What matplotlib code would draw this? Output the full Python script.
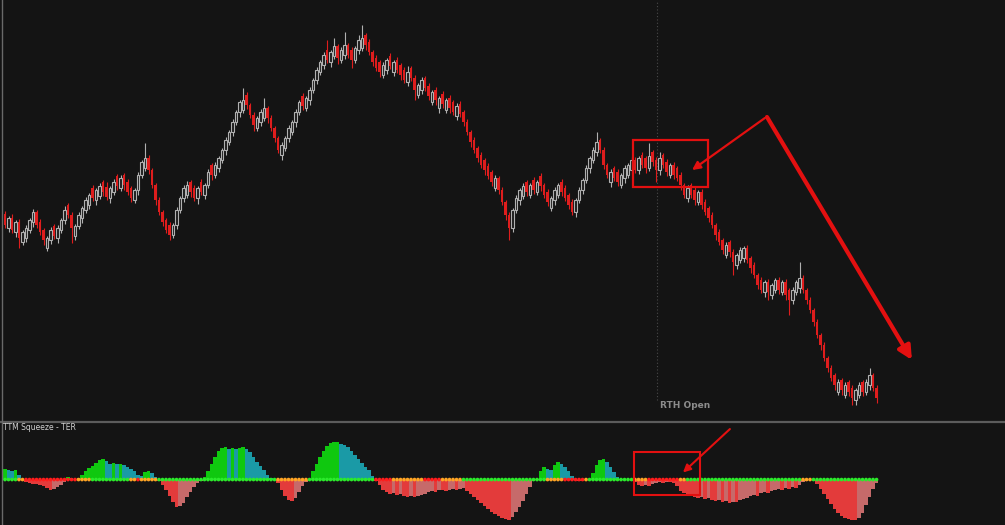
import numpy as np
import matplotlib
matplotlib.use("Agg")
import matplotlib.pyplot as plt
from matplotlib.patches import Rectangle
from matplotlib.lines import Line2D

# ---------------- data (price units, arbitrary scale) ----------------
closes = [205,212,200,208,192,198,202,210,218,205,
          198,190,192,200,194,202,210,220,215,202,
          204,215,222,230,235,232,240,244,238,233,
          242,248,244,252,245,238,232,240,255,268,
          272,260,245,230,218,208,200,195,205,220,
          232,242,245,238,232,242,238,245,258,255,
          265,272,280,290,298,308,318,328,330,325,
          315,305,312,318,322,312,302,292,280,285,
          292,302,308,318,328,324,332,340,350,360,
          368,375,370,378,384,372,380,385,375,370,
          382,390,392,385,378,368,362,358,365,370,
          364,368,360,355,350,358,352,340,345,350,
          342,334,338,330,332,326,330,322,318,324,
          316,308,298,288,280,272,265,260,254,248,
          252,240,228,215,202,220,232,240,244,238,
          245,240,248,244,235,228,232,240,245,238,
          232,225,218,230,240,250,262,272,280,288,
          280,265,255,258,252,248,255,262,265,270,
          260,272,265,262,274,268,260,272,265,258,
          265,255,252,245,235,242,235,230,238,225,
          218,212,205,195,188,180,185,178,168,175,
          180,182,170,162,155,145,140,148,138,145,
          150,140,148,135,130,140,148,152,140,130,
          120,108,95,85,72,62,52,45,48,40,
          45,38,32,40,45,38,48,55,42,32]

opens = [216,202,212,198,208,188,192,200,208,218,
         208,200,182,190,204,192,200,210,225,215,
         194,204,212,220,225,242,230,234,248,243,
         232,238,254,242,255,248,242,230,240,255,
         262,272,260,245,230,218,210,205,195,205,
         220,232,235,248,242,232,248,235,245,265,
         255,262,270,280,288,298,308,318,320,335,
         325,315,302,308,312,322,312,302,292,275,
         282,292,298,308,318,334,322,330,340,350,
         358,365,380,368,374,384,370,375,385,380,
         370,380,382,395,388,378,372,368,355,360,
         374,358,370,365,360,348,362,352,335,340,
         352,344,328,340,322,336,320,332,328,314,
         326,318,308,298,290,282,275,270,264,258,
         242,252,240,228,215,202,220,230,234,248,
         235,250,238,254,245,238,222,230,235,248,
         242,235,228,218,230,240,250,262,270,278,
         290,280,265,248,262,258,245,252,255,260,
         270,260,275,272,262,278,270,260,275,268,
         255,265,262,255,245,232,245,240,228,238,
         228,222,215,205,198,190,175,188,178,165,
         170,172,182,172,165,155,150,138,148,135,
         140,150,138,148,140,130,138,142,152,140,
         130,120,108,95,85,72,62,55,38,50,
         35,48,42,30,35,48,38,45,55,42]

upper_wick = [3,2,4,2,3,2,3,2,3,2,
              3,2,2,3,2,3,2,4,2,3,
              2,3,2,3,2,3,2,3,2,5,
              2,3,2,3,2,3,2,2,3,2,
              15,3,2,2,3,2,2,3,2,3,
              2,3,4,2,3,2,3,2,3,2,
              3,2,2,3,2,3,2,2,12,3,
              2,3,2,3,10,2,3,2,2,3,
              2,3,2,3,2,3,2,3,2,3,
              2,3,10,2,8,2,3,13,2,3,
              2,5,13,2,3,2,3,2,3,2,
              3,2,3,2,3,6,2,3,2,3,
              2,3,2,3,2,3,2,3,2,3,
              3,2,3,2,3,2,3,2,3,2,
              3,2,3,2,3,2,3,2,3,2,
              2,3,2,3,2,3,2,3,2,3,
              3,2,3,2,3,2,3,2,3,10,
              2,3,2,3,2,3,2,3,2,3,
              3,2,3,2,13,2,3,6,2,3,
              2,3,2,3,2,3,2,3,2,3,
              3,2,3,2,3,2,3,2,3,2,
              3,2,3,2,3,2,3,2,3,2,
              2,3,2,3,2,3,2,16,3,2,
              3,2,3,2,3,2,3,2,3,2,
              3,2,3,2,3,2,3,7,2,3]

lower_wick = [3,4,3,5,10,3,4,3,5,3,
              3,5,3,4,3,5,3,4,3,15,
              4,3,5,3,4,3,5,3,4,3,
              5,3,4,3,5,3,4,3,5,3,
              3,4,3,5,3,4,3,5,3,4,
              3,4,3,5,3,6,3,4,3,5,
              3,4,3,5,3,4,3,5,3,4,
              3,6,3,4,3,5,3,4,3,5,
              3,4,3,5,3,4,3,5,3,4,
              3,4,3,5,3,6,3,4,3,8,
              3,4,3,5,3,4,3,5,3,4,
              3,4,3,5,3,4,3,10,3,4,
              3,4,3,5,5,4,3,5,3,4,
              3,4,3,5,3,4,3,5,3,4,
              3,4,3,5,12,4,3,5,3,4,
              3,4,3,5,3,4,3,5,3,4,
              3,4,3,5,3,4,3,5,3,4,
              3,4,3,5,3,4,3,5,3,4,
              3,4,3,5,3,4,12,5,3,4,
              3,4,3,5,3,4,3,5,3,4,
              3,4,3,5,3,4,3,5,13,4,
              3,4,3,5,3,4,3,5,8,4,
              3,4,3,5,15,4,3,5,3,4,
              3,4,3,5,3,4,3,5,3,5,
              3,4,7,5,3,4,3,5,3,5]

squeeze_hist = [10,9,8,9,5,1,-2,-3,-4,-4,
                -5,-6,-8,-10,-9,-7,-5,-2,3,2,
                0,2,5,8,11,13,16,19,20,18,
                15,16,15,15,14,12,10,8,5,4,
                7,8,6,3,-1,-5,-10,-16,-22,-27,
                -26,-23,-17,-12,-7,-3,-1,3,8,15,
                22,28,31,32,30,31,30,31,32,30,
                27,22,17,13,9,5,2,1,-3,-10,
                -16,-20,-21,-18,-12,-6,-2,1,8,15,
                22,28,33,36,37,37,35,34,32,28,
                24,20,16,12,9,4,-1,-5,-10,-12,
                -14,-13,-15,-14,-16,-17,-16,-17,-16,-15,
                -14,-12,-11,-12,-10,-10,-11,-10,-9,-10,
                -9,-8,-11,-14,-17,-20,-23,-26,-29,-32,
                -34,-36,-38,-39,-40,-37,-32,-27,-21,-14,
                -7,-1,1,8,12,10,9,14,17,15,
                12,8,4,1,-1,-1,0,1,6,14,
                19,20,17,12,7,3,1,0,0,-1,
                -2,-5,-6,-5,-6,-4,-3,-2,-3,-2,
                -2,-3,-6,-11,-13,-15,-15,-17,-18,-17,
                -19,-18,-20,-21,-20,-22,-21,-23,-22,-22,
                -20,-19,-18,-16,-15,-16,-13,-12,-13,-11,
                -10,-9,-10,-8,-9,-7,-8,-5,-2,-1,
                0,-1,-4,-9,-14,-19,-24,-29,-33,-36,
                -38,-39,-40,-40,-38,-33,-25,-17,-9,-3]

# squeeze state dots along zero line: (state, number of bars)
dot_runs = [("off", 4), ("mid", 2), ("on", 15), ("mid", 4), ("off", 11),
            ("mid", 2), ("on", 1), ("mid", 5), ("off", 34), ("mid", 9),
            ("off", 19), ("on", 5), ("mid", 9), ("on", 5), ("mid", 6),
            ("off", 24), ("mid", 5), ("on", 6), ("mid", 1), ("off", 13),
            ("mid", 4), ("on", 9), ("mid", 2), ("off", 33), ("mid", 3),
            ("off", 19)]

rth_open_bar = 186.3
panel_label = "TTM Squeeze - TER"
session_label = "RTH Open"

# ---------------- styling ----------------
BG = "#141414"
RED = "#df1d1d"
UP_EDGE = "#b0b0b0"
ANN = "#e31010"
DOT_COL = {"off": "#2bea2b", "on": "#ff1c1c", "mid": "#ffa424"}

o = np.array(opens, float)
c = np.array(closes, float)
hi = np.maximum(o, c) + np.array(upper_wick, float)
lo = np.minimum(o, c) - np.array(lower_wick, float)
x = np.arange(len(c))
up = c >= o

W, H = 1005, 525
fig = plt.figure(figsize=(W / 100, H / 100), dpi=100, facecolor=BG)
sep_y = 422
ax = fig.add_axes([0, (H - sep_y) / H, 1, sep_y / H], facecolor=BG)
ax2 = fig.add_axes([0, 0, 1, (H - sep_y - 1) / H], facecolor=BG)

for a in (ax, ax2):
    a.set_xlim(-1.43, 285.7)
    for s in a.spines.values():
        s.set_visible(False)
    a.set_xticks([])
    a.set_yticks([])

ax.set_ylim(8, 430)
ax2.set_ylim(-45, 56)

# wicks
ax.vlines(x[up], lo[up], hi[up], colors=UP_EDGE, lw=0.8, zorder=2)
ax.vlines(x[~up], lo[~up], hi[~up], colors=RED, lw=0.8, zorder=2)
# bodies
ax.bar(x[up], (c - o)[up], bottom=o[up], width=0.66, color="#1c1c1c",
       edgecolor=UP_EDGE, linewidth=0.8, zorder=3)
ax.bar(x[~up], (c - o)[~up], bottom=o[~up], width=0.8, color=RED,
       linewidth=0, zorder=3)

# RTH open marker
ax.vlines(rth_open_bar, 30, 430, colors="#4a4a4a", lw=0.8,
          linestyles=(0, (1, 2)), zorder=1)
ax.text(rth_open_bar + 0.8, 24, session_label, color="#8c8c8c",
        fontsize=6.5, fontweight="bold", va="center", ha="left")

# squeeze histogram
h = np.array(squeeze_hist, float)
prev = np.concatenate([[h[0]], h[:-1]])
cols = []
for v, p in zip(h, prev):
    if v >= 0:
        cols.append("#0fc80f" if v >= p else "#1a9aa6")
    else:
        cols.append("#e33b3b" if v <= p else "#c66a6a")
ax2.bar(x, h, width=1.0, color=cols, linewidth=0, zorder=2)

dot_states = []
for st, n in dot_runs:
    dot_states += [st] * n
ax2.scatter(x, np.zeros(len(x)), s=7, c=[DOT_COL[s] for s in dot_states],
            linewidths=0, zorder=4)

# annotations
ax.add_patch(Rectangle((179.4, 243), 21.5, 47, fill=False, ec=ANN, lw=1.6, zorder=5))
ax.annotate("", xy=(196.3, 260), xytext=(217.1, 312),
            arrowprops=dict(arrowstyle="-|>", color=ANN, lw=1.6,
                            mutation_scale=12, shrinkA=0, shrinkB=0), zorder=5)
ax.annotate("", xy=(259.1, 70), xytext=(217.7, 313),
            arrowprops=dict(arrowstyle="-|>", color=ANN, lw=3.0,
                            mutation_scale=20, shrinkA=0, shrinkB=0), zorder=5)
ax2.add_patch(Rectangle((179.7, -15), 18.9, 42, fill=False, ec=ANN, lw=1.5, zorder=5))
ax2.annotate("", xy=(193.7, 7), xytext=(207.1, 50),
             arrowprops=dict(arrowstyle="-|>", color=ANN, lw=1.5,
                             mutation_scale=11, shrinkA=0, shrinkB=0), zorder=5)

# panel separator, left border and label
fig.add_artist(Line2D([0, 1], [(H - sep_y) / H] * 2, color="#5c5c5c", lw=1.6))
fig.add_artist(Line2D([2 / W] * 2, [0, 1], color="#6a6a6a", lw=1.0))
fig.text(3 / W, 1 - 428 / H, panel_label, color="#d0d0d0", fontsize=5.5,
         va="center", ha="left")

fig.savefig("out.png", dpi=100, facecolor=BG)
